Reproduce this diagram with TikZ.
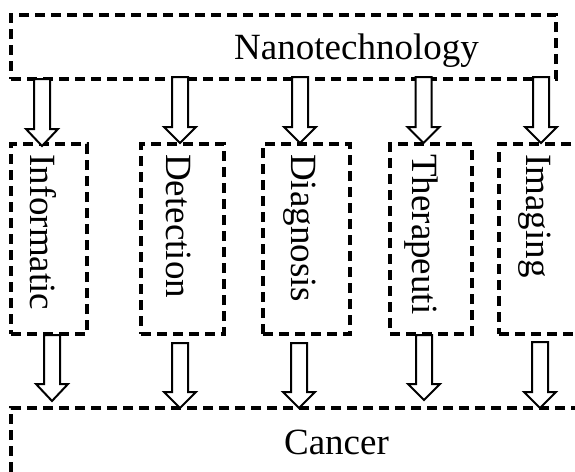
\documentclass[tikz,border=0pt]{standalone}
\usepackage{fontspec}
\setmainfont{Liberation Serif}
\newcommand\blockarr[4]{% x, top, head start, tip
  \draw[barrow] ({#1-8},#2) -- ({#1-8},#3) -- ({#1-16},#3) -- (#1,#4) -- ({#1+16},#3) -- ({#1+8},#3) -- ({#1+8},#2) -- cycle;}
\begin{document}
\begin{tikzpicture}[x=1pt,y=-1pt,
  box/.style={draw, line width=3.2pt, dash pattern=on 10pt off 6pt, inner sep=0pt},
  lbl/.style={font=\fontsize{37}{40}\selectfont, inner sep=0pt},
  vlbl/.style={lbl, rotate=-90, anchor=base west},
  barrow/.style={draw, line width=2pt, fill=white, line join=miter}]
\useasboundingbox (0,0) rectangle (575,471);
\clip (0,0) rectangle (575,471);
% top box
\node[box, minimum width=545pt, minimum height=64pt] (nano) at (283.5,47) {};
\node[lbl, anchor=base] (nanolbl) at (356.5,59) {Nanotechnology};
% middle boxes
\node[box, minimum width=76pt, minimum height=190pt] (b1) at (49,239) {};
\node[box, minimum width=83pt, minimum height=190pt] (b2) at (182.5,239) {};
\node[box, minimum width=87pt, minimum height=190pt] (b3) at (306.5,239) {};
\node[box, minimum width=82pt, minimum height=190pt] (b4) at (431,239) {};
\node[box, minimum width=101pt, minimum height=190pt] (b5) at (549.5,239) {};
\node[vlbl] (t1) at (30,154) {Informatic};
\node[vlbl] (t2) at (166.5,154) {Detection};
\node[vlbl] (t3) at (291,154) {Diagnosis};
\node[vlbl] (t4) at (412,154) {Therapeuti};
\node[vlbl] (t5) at (526.5,154) {Imaging};
% bottom box
\node[box, lbl, minimum width=651pt, minimum height=68pt] (cancer) at (336.5,442) {Cancer};
% top arrows
\blockarr{42}{79}{129}{146}
\blockarr{180}{77}{127}{143}
\blockarr{300}{77}{127}{143}
\blockarr{423.5}{77}{127}{143}
\blockarr{541}{77}{127}{143}
% lower arrows
\blockarr{52}{335}{384}{401}
\blockarr{180}{343}{392}{408}
\blockarr{299}{343}{392}{408}
\blockarr{424}{335}{384}{400}
\blockarr{540}{342}{392}{408}
\end{tikzpicture}
\end{document}
